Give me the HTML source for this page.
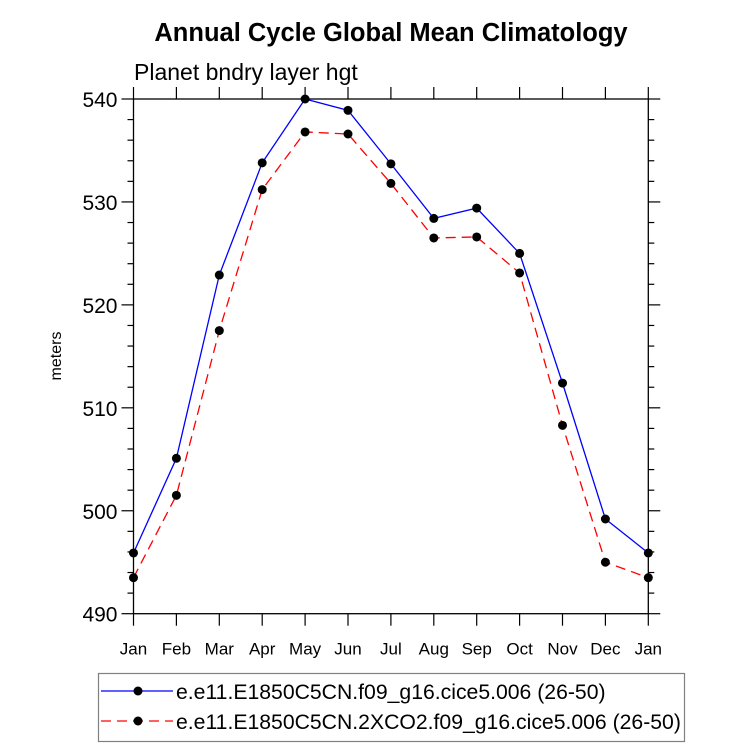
<!DOCTYPE html>
<html><head><meta charset="utf-8"><style>
body{margin:0;background:#fff;}
svg text{font-family:"Liberation Sans",Helvetica,Arial,sans-serif;}
</style></head><body>
<svg id="chart" width="733" height="748" xmlns="http://www.w3.org/2000/svg">
<text x="391" y="41" text-anchor="middle" font-size="25.5" font-weight="bold">Annual Cycle Global Mean Climatology</text>
<text x="134" y="80" font-size="23">Planet bndry layer hgt</text>
<text transform="translate(61,356) rotate(-90)" text-anchor="middle" font-size="16">meters</text>
<g id="axes"></g>
<g id="series"></g>
<g>
<rect x="98.5" y="673.5" width="586" height="68" fill="#fff" stroke="#808080" stroke-width="1.2"/>
<line x1="101" y1="691" x2="173" y2="691" stroke="#0000ff" stroke-width="1.3"/>
<circle cx="138" cy="691" r="4.5" fill="#000"/>
<text x="176" y="699" font-size="21.2">e.e11.E1850C5CN.f09_g16.cice5.006 (26-50)</text>
<line x1="101" y1="721" x2="173" y2="721" stroke="#ff0000" stroke-width="1.3" stroke-dasharray="10,6"/>
<circle cx="138" cy="721" r="4.5" fill="#000"/>
<text x="176" y="729" font-size="21.2">e.e11.E1850C5CN.2XCO2.f09_g16.cice5.006 (26-50)</text>
</g>
</svg>
<script>
const months=["Jan","Feb","Mar","Apr","May","Jun","Jul","Aug","Sep","Oct","Nov","Dec","Jan"];
const controlVals=[495.9,505.1,522.9,533.8,540.0,538.9,533.7,528.4,529.4,525.0,512.4,499.2,495.9];
const co2Vals=[493.5,501.5,517.5,531.2,536.8,536.6,531.8,526.5,526.6,523.1,508.3,495.0,493.5];
const yTicks=[490,500,510,520,530,540];
const NS="http://www.w3.org/2000/svg";
const X0=133.5,X1=648.3,Y0=613.7,Y1=99,YMIN=490,YMAX=540;
function xs(i){return X0+(X1-X0)*i/(months.length-1);}
function ys(v){return Y0-(v-YMIN)/(YMAX-YMIN)*(Y0-Y1);}
function mk(tag,attrs,parent){const e=document.createElementNS(NS,tag);for(const k in attrs)e.setAttribute(k,attrs[k]);parent.appendChild(e);return e;}
const ax=document.getElementById('axes');
const frame=mk('rect',{x:X0,y:Y1,width:X1-X0,height:Y0-Y1,fill:'none',stroke:'#000','stroke-width':1.3},ax);


months.forEach((m,i)=>{const x=xs(i);
mk('line',{x1:x,y1:Y0,x2:x,y2:Y0+12,stroke:'#000','stroke-width':1.2},ax);
mk('line',{x1:x,y1:Y1,x2:x,y2:Y1-12,stroke:'#000','stroke-width':1.2},ax);
const t=mk('text',{x:x,y:Y0+41,'text-anchor':'middle','font-size':17},ax);t.textContent=m;


});
for(let v=YMIN;v<=YMAX;v+=2){const y=ys(v);const major=(v%10===0);const L=major?12:6;
mk('line',{x1:X0,y1:y,x2:X0-L,y2:y,stroke:'#000','stroke-width':1.2},ax);
mk('line',{x1:X1,y1:y,x2:X1+L,y2:y,stroke:'#000','stroke-width':1.2},ax);}
yTicks.forEach(v=>{const t=mk('text',{x:X0-16,y:ys(v)+8,'text-anchor':'end','font-size':21},ax);t.textContent=v;


});
const sg=document.getElementById('series');
function series(vals,color,dash,name){
const pts=vals.map((v,i)=>xs(i)+','+ys(v)).join(' ');
const pl=mk('polyline',{points:pts,fill:'none',stroke:color,'stroke-width':1.3},sg);
if(dash)pl.setAttribute('stroke-dasharray',dash);


vals.forEach((v,i)=>{const c=mk('circle',{cx:xs(i),cy:ys(v),r:4.5,fill:'#000'},sg);

});
}
series(co2Vals,'#ff0000','10,6','co2');
series(controlVals,'#0000ff',null,'control');
</script>
</body></html>
